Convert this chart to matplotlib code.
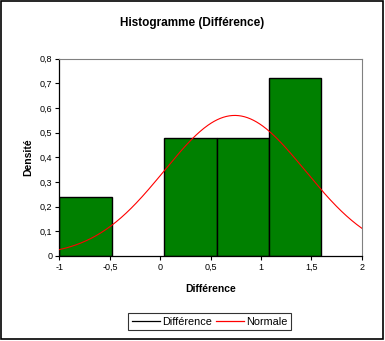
import matplotlib
matplotlib.use('Agg')
import matplotlib.pyplot as plt
from matplotlib.lines import Line2D
from matplotlib.patches import Rectangle
from matplotlib.ticker import FuncFormatter
import numpy as np

plt.rcParams['font.family'] = ['Liberation Sans', 'DejaVu Sans']

# histogram bins (edges) and densities
bin_edges = [-1.0, -0.48, 0.04, 0.56, 1.08, 1.60]
densities = [0.24, 0.0, 0.48, 0.48, 0.72]
# fitted normal
mu = 0.74
sigma = 0.70
x_ticks = [-1, -0.5, 0, 0.5, 1, 1.5, 2]
y_ticks = [0, 0.1, 0.2, 0.3, 0.4, 0.5, 0.6, 0.7, 0.8]

fig = plt.figure(figsize=(3.85, 3.41), dpi=100)
ax = fig.add_axes([0.1545, 0.2493, 0.785, 0.5786])

widths = np.diff(bin_edges)
for left, w, h in zip(bin_edges[:-1], widths, densities):
    if h > 0:
        ax.bar(left, h, width=w, align='edge', color='#008000',
               edgecolor='black', linewidth=1.0, zorder=2)

xs = np.linspace(-1, 2, 300)
ys = np.exp(-(xs - mu) ** 2 / (2 * sigma ** 2)) / (sigma * np.sqrt(2 * np.pi))
ax.plot(xs, ys, color='red', linewidth=0.8, zorder=3)

ax.set_xlim(-1, 2)
ax.set_ylim(0, 0.8)
ax.set_xticks(x_ticks)
ax.set_yticks(y_ticks)
fmt = FuncFormatter(lambda v, p: ('%g' % v).replace('.', ','))
ax.xaxis.set_major_formatter(fmt)
ax.yaxis.set_major_formatter(fmt)
ax.tick_params(labelsize=6.5, length=3, width=0.8, pad=2, direction='out')
for s in ['top', 'right']:
    ax.spines[s].set_color('#808080')
    ax.spines[s].set_linewidth(0.8)
for s in ['left', 'bottom']:
    ax.spines[s].set_color('black')
    ax.spines[s].set_linewidth(0.9)

ax.set_xlabel('Différence', fontsize=7.5, fontweight='bold', labelpad=9)
ax.set_ylabel('Densité', fontsize=7.5, fontweight='bold', labelpad=5)
fig.text(0.498, 0.932, 'Histogramme (Différence)', ha='center', va='center',
         fontsize=8.5, fontweight='bold')

handles = [Line2D([], [], color='black', linewidth=0.9),
           Line2D([], [], color='red', linewidth=0.9)]
leg = fig.legend(handles, ['Différence', 'Normale'], loc='center',
                 bbox_to_anchor=(0.545, 0.057), ncol=2, fontsize=7.8,
                 frameon=True, fancybox=False, handlelength=2.6,
                 handletextpad=0.2, columnspacing=0.4, borderpad=0.3)
leg.get_frame().set_edgecolor('black')
leg.get_frame().set_linewidth(0.8)

# outer chart border
fig.patches.append(Rectangle((0.5 / 385, 2.5 / 341), 382.5 / 385, 338 / 341,
                             transform=fig.transFigure, fill=False,
                             edgecolor='black', linewidth=1.2))

fig.savefig('out.png', dpi=100)
